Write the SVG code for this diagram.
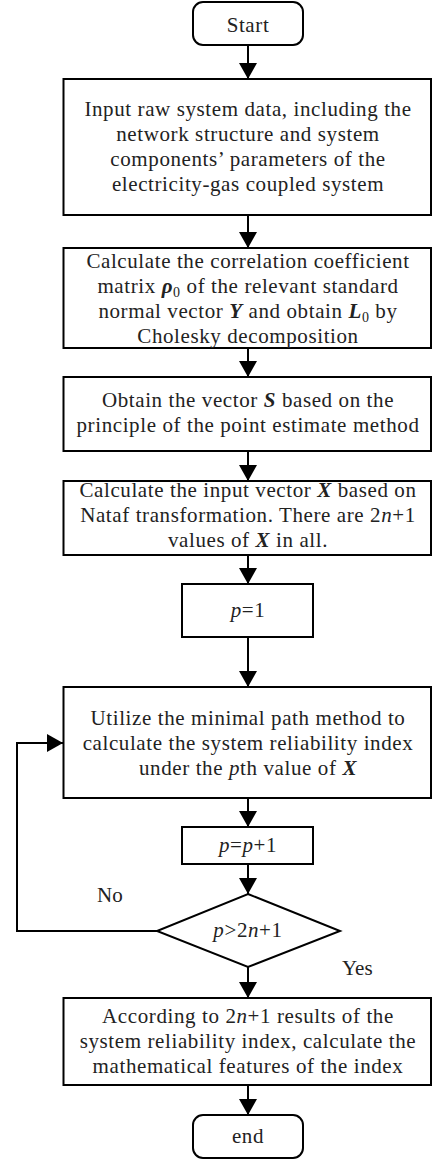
<svg xmlns="http://www.w3.org/2000/svg" width="432" height="1160" viewBox="0 0 432 1160">
<style>
.box{fill:#fff;stroke:#000;stroke-width:2}
.t{font-family:"Liberation Serif","Times New Roman",serif;font-size:21px;fill:#222;text-anchor:middle;letter-spacing:0.6px}
.i{font-style:italic}
.bi{font-style:italic;font-weight:bold}
.sub{font-size:14px}
.lbl{font-family:"Liberation Serif","Times New Roman",serif;font-size:21px;fill:#222}
.c{fill:none;stroke:#000;stroke-width:2}
</style>
<defs>
<marker id="ah" viewBox="0 0 16 18" refX="16" refY="9" markerWidth="16" markerHeight="18" markerUnits="userSpaceOnUse" orient="auto">
<path d="M0,0 L16,9 L0,18 z" fill="#000"/>
</marker>
</defs>
<g id="connectors">
<path class="c" d="M248,45 V79" marker-end="url(#ah)"/>
<path class="c" d="M248,215 V248" marker-end="url(#ah)"/>
<path class="c" d="M248,348 V377" marker-end="url(#ah)"/>
<path class="c" d="M248,451 V481" marker-end="url(#ah)"/>
<path class="c" d="M248,555 V584" marker-end="url(#ah)"/>
<path class="c" d="M248,637 V687" marker-end="url(#ah)"/>
<path class="c" d="M248,798 V827" marker-end="url(#ah)"/>
<path class="c" d="M248,864 V894" marker-end="url(#ah)"/>
<path class="c" d="M248,967 V998" marker-end="url(#ah)"/>
<path class="c" d="M248,1085 V1115" marker-end="url(#ah)"/>
<path class="c" d="M157,931 H17 V743 H63" marker-end="url(#ah)"/>
<text class="lbl" x="97" y="902">No</text>
<text class="lbl" x="342" y="975">Yes</text>
</g>
<g id="start">
<rect class="box" x="193" y="2" width="110" height="43" rx="10"/>
<text class="t" x="248" y="32">Start</text>
</g>
<g id="input">
<rect class="box" x="63.5" y="79" width="367.5" height="136"/>
<text class="t" x="248" y="116">Input raw system data, including the</text>
<text class="t" x="248" y="141">network structure and system</text>
<text class="t" x="248" y="166">components’ parameters of the</text>
<text class="t" x="248" y="191">electricity-gas coupled system</text>
</g>
<g id="corr">
<rect class="box" x="63.5" y="248" width="367.5" height="100"/>
<text class="t" x="248" y="268">Calculate the correlation coefficient</text>
<text class="t" x="248" y="293">matrix <tspan class="bi">ρ</tspan><tspan class="sub" dy="4">0</tspan><tspan dy="-4"> of the relevant standard</tspan></text>
<text class="t" x="248" y="318">normal vector <tspan class="bi">Y</tspan> and obtain <tspan class="bi">L</tspan><tspan class="sub" dy="4">0</tspan><tspan dy="-4"> by</tspan></text>
<text class="t" x="248" y="343">Cholesky decomposition</text>
</g>
<g id="vecS">
<rect class="box" x="63.5" y="377" width="367.5" height="74"/>
<text class="t" x="248" y="407">Obtain the vector <tspan class="bi">S</tspan> based on the</text>
<text class="t" x="248" y="432">principle of the point estimate method</text>
</g>
<g id="vecX">
<rect class="box" x="63.5" y="481" width="367.5" height="74"/>
<text class="t" x="248" y="497">Calculate the input vector <tspan class="bi">X</tspan> based on</text>
<text class="t" x="248" y="522">Nataf transformation. There are 2<tspan class="i">n</tspan>+1</text>
<text class="t" x="248" y="547">values of <tspan class="bi">X</tspan> in all.</text>
</g>
<g id="p1">
<rect class="box" x="182" y="584" width="131" height="53"/>
<text class="t" x="248" y="617"><tspan class="i">p</tspan>=1</text>
</g>
<g id="minpath">
<rect class="box" x="63.5" y="687" width="367.5" height="111"/>
<text class="t" x="248" y="725">Utilize the minimal path method to</text>
<text class="t" x="248" y="750">calculate the system reliability index</text>
<text class="t" x="248" y="775">under the <tspan class="i">p</tspan>th value of <tspan class="bi">X</tspan></text>
</g>
<g id="pinc">
<rect class="box" x="182" y="827" width="131" height="37"/>
<text class="t" x="248" y="852"><tspan class="i">p</tspan>=<tspan class="i">p</tspan>+1</text>
</g>
<g id="decision">
<polygon class="box" points="248,894 340,931 248,967 157,931"/>
<text class="t" x="248" y="937"><tspan class="i">p</tspan>&gt;2<tspan class="i">n</tspan>+1</text>
</g>
<g id="features">
<rect class="box" x="63.5" y="998" width="367.5" height="87"/>
<text class="t" x="248" y="1023">According to 2<tspan class="i">n</tspan>+1 results of the</text>
<text class="t" x="248" y="1048">system reliability index, calculate the</text>
<text class="t" x="248" y="1073">mathematical features of the index</text>
</g>
<g id="end">
<rect class="box" x="193" y="1115" width="110" height="43" rx="10"/>
<text class="t" x="248" y="1143">end</text>
</g>
</svg>
